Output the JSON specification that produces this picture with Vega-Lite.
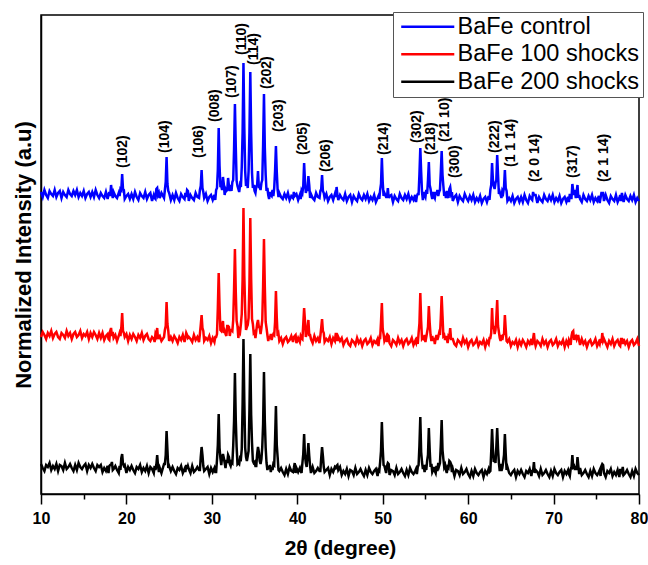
{
"$schema": "https://vega.github.io/schema/vega-lite/v6.json",
"width": 598, "height": 479,
"autosize": {"type": "none"},
"padding": {"left": 41, "top": 15, "right": 9, "bottom": 71},
"background": "white",
"config": {"view": {"stroke": "black", "strokeWidth": 1.5}, "font": "Liberation Sans"},
"datasets": {
"xrd": [
{"x":10.0,"b":302,"r":157,"k":30},{"x":10.2,"b":297,"r":162,"k":26},{"x":10.4,"b":304,"r":159,"k":23},{"x":10.6,"b":299,"r":155,"k":29},{"x":10.8,"b":296,"r":161,"k":27},
{"x":11.0,"b":303,"r":158,"k":31},{"x":11.2,"b":300,"r":163,"k":24},{"x":11.4,"b":298,"r":156,"k":28},{"x":11.6,"b":304,"r":160,"k":25},{"x":11.8,"b":297,"r":162,"k":30},
{"x":12.0,"b":301,"r":157,"k":23},{"x":12.2,"b":303,"r":155,"k":29},{"x":12.4,"b":296,"r":161,"k":28},{"x":12.6,"b":302,"r":159,"k":24},{"x":12.8,"b":299,"r":156,"k":31},
{"x":13.0,"b":297,"r":163,"k":25},{"x":13.2,"b":304,"r":158,"k":27},{"x":13.4,"b":300,"r":161,"k":30},{"x":13.6,"b":298,"r":155,"k":26},{"x":13.8,"b":303,"r":160,"k":23},
{"x":14.0,"b":299,"r":162,"k":29},{"x":14.2,"b":304,"r":157,"k":24},{"x":14.4,"b":297,"r":159,"k":31},{"x":14.6,"b":301,"r":163,"k":27},{"x":14.8,"b":298,"r":156,"k":25},
{"x":15.0,"b":303,"r":160,"k":28},{"x":15.2,"b":296,"r":158,"k":30},{"x":15.4,"b":300,"r":162,"k":23},{"x":15.6,"b":302,"r":155,"k":29},{"x":15.8,"b":297,"r":161,"k":26},
{"x":16.0,"b":302,"r":157,"k":30},{"x":16.2,"b":297,"r":162,"k":26},{"x":16.4,"b":304,"r":159,"k":23},{"x":16.6,"b":299,"r":155,"k":29},{"x":16.8,"b":296,"r":161,"k":27},
{"x":17.0,"b":301,"r":156,"k":29},{"x":17.2,"b":298,"r":161,"k":22},{"x":17.4,"b":296,"r":154,"k":26},{"x":17.6,"b":302,"r":158,"k":23},{"x":17.8,"b":295,"r":160,"k":28},
{"x":17.9,"b":299,"r":155,"k":21},{"x":18.0,"b":302,"r":154,"k":28},{"x":18.1,"b":298,"r":163,"k":29},{"x":18.2,"b":309,"r":166,"k":29},{"x":18.3,"b":301,"r":158,"k":32},
{"x":18.4,"b":296,"r":162,"k":24},{"x":18.5,"b":302,"r":156,"k":25},{"x":18.7,"b":298,"r":159,"k":28},{"x":18.9,"b":296,"r":153,"k":24},{"x":19.1,"b":301,"r":158,"k":21},
{"x":19.2,"b":298,"r":161,"k":28},{"x":19.3,"b":305,"r":158,"k":24},{"x":19.4,"b":304,"r":166,"k":36},{"x":19.5,"b":320,"r":181,"k":40},{"x":19.6,"b":305,"r":163,"k":30},
{"x":19.7,"b":304,"r":161,"k":28},{"x":19.8,"b":295,"r":157,"k":29},{"x":20.0,"b":298,"r":160,"k":21},{"x":20.2,"b":300,"r":153,"k":27},{"x":20.4,"b":295,"r":159,"k":24},
{"x":20.6,"b":300,"r":155,"k":28},{"x":20.8,"b":295,"r":160,"k":24},{"x":21.0,"b":302,"r":157,"k":21},{"x":21.2,"b":297,"r":153,"k":27},{"x":21.4,"b":294,"r":159,"k":25},
{"x":21.6,"b":301,"r":156,"k":29},{"x":21.8,"b":298,"r":161,"k":22},{"x":22.0,"b":296,"r":154,"k":26},{"x":22.2,"b":302,"r":158,"k":23},{"x":22.4,"b":295,"r":160,"k":28},
{"x":22.6,"b":299,"r":155,"k":21},{"x":22.8,"b":301,"r":153,"k":27},{"x":23.0,"b":293,"r":157,"k":25},{"x":23.2,"b":299,"r":155,"k":21},{"x":23.3,"b":296,"r":152,"k":28},
{"x":23.4,"b":295,"r":160,"k":24},{"x":23.5,"b":305,"r":158,"k":29},{"x":23.6,"b":306,"r":166,"k":39},{"x":23.7,"b":299,"r":155,"k":28},{"x":23.8,"b":301,"r":157,"k":22},
{"x":23.9,"b":296,"r":158,"k":26},{"x":24.1,"b":301,"r":153,"k":21},{"x":24.4,"b":296,"r":157,"k":30},{"x":24.5,"b":304,"r":164,"k":30},{"x":24.6,"b":312,"r":168,"k":39},
{"x":24.7,"b":337,"r":192,"k":63},{"x":24.8,"b":310,"r":170,"k":44},{"x":24.9,"b":303,"r":163,"k":26},{"x":25.0,"b":301,"r":153,"k":28},{"x":25.2,"b":294,"r":157,"k":23},
{"x":25.4,"b":299,"r":153,"k":27},{"x":25.6,"b":294,"r":158,"k":23},{"x":25.8,"b":301,"r":155,"k":20},{"x":26.0,"b":296,"r":151,"k":26},{"x":26.2,"b":293,"r":157,"k":24},
{"x":26.4,"b":300,"r":154,"k":28},{"x":26.6,"b":297,"r":159,"k":21},{"x":26.8,"b":295,"r":152,"k":25},{"x":26.9,"b":301,"r":156,"k":22},{"x":27.0,"b":297,"r":161,"k":29},
{"x":27.1,"b":304,"r":159,"k":25},{"x":27.2,"b":303,"r":156,"k":28},{"x":27.3,"b":293,"r":157,"k":25},{"x":27.5,"b":299,"r":155,"k":21},{"x":27.7,"b":296,"r":152,"k":28},
{"x":27.9,"b":294,"r":159,"k":22},{"x":28.1,"b":301,"r":154,"k":24},{"x":28.3,"b":297,"r":157,"k":27},{"x":28.5,"b":296,"r":152,"k":24},{"x":28.6,"b":304,"r":160,"k":24},
{"x":28.7,"b":308,"r":169,"k":37},{"x":28.8,"b":324,"r":179,"k":47},{"x":28.9,"b":306,"r":166,"k":39},{"x":29.0,"b":302,"r":163,"k":28},{"x":29.1,"b":296,"r":153,"k":23},
{"x":29.3,"b":300,"r":156,"k":25},{"x":29.5,"b":293,"r":154,"k":27},{"x":29.7,"b":297,"r":158,"k":20},{"x":29.9,"b":299,"r":151,"k":26},{"x":30.1,"b":294,"r":156,"k":22},
{"x":30.3,"b":299,"r":152,"k":26},{"x":30.4,"b":294,"r":157,"k":22},{"x":30.5,"b":304,"r":157,"k":22},{"x":30.6,"b":306,"r":160,"k":34},{"x":30.7,"b":324,"r":186,"k":49},
{"x":30.8,"b":366,"r":221,"k":80},{"x":30.9,"b":328,"r":188,"k":46},{"x":31.0,"b":308,"r":164,"k":36},{"x":31.1,"b":308,"r":163,"k":29},{"x":31.2,"b":304,"r":168,"k":37},
{"x":31.3,"b":317,"r":173,"k":40},{"x":31.4,"b":310,"r":161,"k":36},{"x":31.5,"b":299,"r":163,"k":31},{"x":31.6,"b":305,"r":160,"k":26},{"x":31.7,"b":303,"r":158,"k":34},
{"x":31.8,"b":304,"r":168,"k":31},{"x":31.9,"b":316,"r":168,"k":39},{"x":32.0,"b":308,"r":167,"k":37},{"x":32.1,"b":303,"r":158,"k":30},{"x":32.2,"b":309,"r":164,"k":28},
{"x":32.3,"b":303,"r":164,"k":32},{"x":32.4,"b":312,"r":163,"k":31},{"x":32.5,"b":314,"r":174,"k":48},{"x":32.6,"b":345,"r":205,"k":73},{"x":32.7,"b":390,"r":245,"k":121},
{"x":32.8,"b":347,"r":202,"k":74},{"x":32.9,"b":313,"r":173,"k":47},{"x":33.0,"b":308,"r":168,"k":30},{"x":33.1,"b":305,"r":156,"k":31},{"x":33.2,"b":302,"r":164,"k":30},
{"x":33.3,"b":309,"r":162,"k":36},{"x":33.4,"b":307,"r":170,"k":35},{"x":33.5,"b":327,"r":180,"k":45},{"x":33.6,"b":362,"r":215,"k":90},{"x":33.7,"b":431,"r":286,"k":155},
{"x":33.8,"b":366,"r":218,"k":92},{"x":33.9,"b":323,"r":184,"k":46},{"x":34.0,"b":308,"r":164,"k":37},{"x":34.1,"b":313,"r":167,"k":33},{"x":34.2,"b":306,"r":169,"k":38},
{"x":34.3,"b":323,"r":176,"k":43},{"x":34.4,"b":362,"r":211,"k":84},{"x":34.5,"b":422,"r":276,"k":140},{"x":34.6,"b":361,"r":215,"k":79},{"x":34.7,"b":321,"r":175,"k":51},
{"x":34.8,"b":306,"r":170,"k":33},{"x":34.9,"b":309,"r":161,"k":31},{"x":35.0,"b":303,"r":162,"k":32},{"x":35.1,"b":301,"r":156,"k":28},{"x":35.2,"b":308,"r":163,"k":28},
{"x":35.3,"b":309,"r":170,"k":40},{"x":35.4,"b":323,"r":174,"k":47},{"x":35.5,"b":307,"r":167,"k":42},{"x":35.6,"b":307,"r":167,"k":33},{"x":35.7,"b":304,"r":160,"k":30},
{"x":35.8,"b":311,"r":166,"k":35},{"x":35.9,"b":314,"r":174,"k":47},{"x":36.0,"b":349,"r":208,"k":70},{"x":36.1,"b":400,"r":255,"k":122},{"x":36.2,"b":346,"r":207,"k":73},
{"x":36.3,"b":319,"r":172,"k":46},{"x":36.4,"b":303,"r":166,"k":31},{"x":36.5,"b":306,"r":159,"k":24},{"x":36.6,"b":299,"r":153,"k":28},{"x":36.7,"b":295,"r":158,"k":25},
{"x":36.8,"b":302,"r":155,"k":29},{"x":36.9,"b":299,"r":160,"k":22},{"x":37.0,"b":298,"r":154,"k":27},{"x":37.1,"b":304,"r":158,"k":24},{"x":37.2,"b":298,"r":160,"k":30},
{"x":37.3,"b":306,"r":159,"k":29},{"x":37.4,"b":323,"r":172,"k":54},{"x":37.5,"b":348,"r":203,"k":88},{"x":37.6,"b":322,"r":176,"k":49},{"x":37.7,"b":304,"r":158,"k":37},
{"x":37.8,"b":297,"r":160,"k":24},{"x":37.9,"b":301,"r":153,"k":23},{"x":38.1,"b":297,"r":156,"k":26},{"x":38.3,"b":295,"r":150,"k":22},{"x":38.5,"b":300,"r":155,"k":19},
{"x":38.7,"b":296,"r":157,"k":25},{"x":38.9,"b":301,"r":152,"k":20},{"x":39.1,"b":294,"r":154,"k":27},{"x":39.3,"b":298,"r":158,"k":23},{"x":39.5,"b":296,"r":152,"k":22},
{"x":39.6,"b":302,"r":157,"k":26},{"x":39.7,"b":298,"r":158,"k":31},{"x":39.8,"b":299,"r":159,"k":21},{"x":39.9,"b":300,"r":151,"k":26},{"x":40.1,"b":294,"r":156,"k":22},
{"x":40.3,"b":299,"r":152,"k":26},{"x":40.4,"b":295,"r":158,"k":23},{"x":40.5,"b":303,"r":156,"k":21},{"x":40.6,"b":301,"r":155,"k":31},{"x":40.7,"b":308,"r":170,"k":40},
{"x":40.8,"b":331,"r":186,"k":60},{"x":40.9,"b":313,"r":173,"k":38},{"x":41.0,"b":301,"r":157,"k":31},{"x":41.1,"b":306,"r":160,"k":27},{"x":41.2,"b":303,"r":166,"k":39},
{"x":41.3,"b":318,"r":174,"k":51},{"x":41.4,"b":309,"r":159,"k":38},{"x":41.5,"b":296,"r":159,"k":28},{"x":41.6,"b":300,"r":155,"k":21},{"x":41.8,"b":296,"r":151,"k":27},
{"x":42.0,"b":294,"r":158,"k":21},{"x":42.2,"b":301,"r":153,"k":23},{"x":42.4,"b":297,"r":156,"k":26},{"x":42.6,"b":296,"r":151,"k":23},{"x":42.7,"b":303,"r":158,"k":23},
{"x":42.8,"b":305,"r":166,"k":36},{"x":42.9,"b":319,"r":175,"k":47},{"x":43.0,"b":303,"r":163,"k":38},{"x":43.1,"b":301,"r":161,"k":27},{"x":43.2,"b":296,"r":152,"k":22},
{"x":43.4,"b":300,"r":155,"k":24},{"x":43.6,"b":293,"r":153,"k":26},{"x":43.8,"b":297,"r":157,"k":19},{"x":44.0,"b":299,"r":150,"k":25},{"x":44.2,"b":294,"r":156,"k":22},
{"x":44.4,"b":300,"r":153,"k":27},{"x":44.5,"b":297,"r":160,"k":26},{"x":44.6,"b":307,"r":160,"k":28},{"x":44.7,"b":299,"r":153,"k":29},{"x":44.8,"b":294,"r":157,"k":24},
{"x":45.0,"b":299,"r":153,"k":27},{"x":45.2,"b":296,"r":156,"k":19},{"x":45.4,"b":294,"r":149,"k":23},{"x":45.6,"b":300,"r":153,"k":20},{"x":45.8,"b":293,"r":155,"k":25},
{"x":46.0,"b":297,"r":150,"k":18},{"x":46.2,"b":299,"r":148,"k":24},{"x":46.4,"b":292,"r":154,"k":23},{"x":46.6,"b":298,"r":152,"k":19},{"x":46.8,"b":295,"r":149,"k":26},
{"x":47.0,"b":293,"r":156,"k":20},{"x":47.2,"b":300,"r":151,"k":22},{"x":47.4,"b":296,"r":154,"k":25},{"x":47.6,"b":294,"r":148,"k":21},{"x":47.8,"b":299,"r":153,"k":18},
{"x":48.0,"b":295,"r":155,"k":24},{"x":48.2,"b":300,"r":150,"k":19},{"x":48.4,"b":293,"r":152,"k":26},{"x":48.6,"b":297,"r":156,"k":22},{"x":48.8,"b":294,"r":149,"k":20},
{"x":49.0,"b":299,"r":153,"k":23},{"x":49.2,"b":292,"r":151,"k":25},{"x":49.4,"b":296,"r":155,"k":18},{"x":49.5,"b":298,"r":148,"k":24},{"x":49.6,"b":295,"r":156,"k":23},
{"x":49.7,"b":304,"r":156,"k":32},{"x":49.8,"b":310,"r":172,"k":43},{"x":49.9,"b":336,"r":191,"k":72},{"x":50.0,"b":312,"r":165,"k":46},{"x":50.1,"b":298,"r":160,"k":29},
{"x":50.2,"b":301,"r":153,"k":28},{"x":50.4,"b":297,"r":157,"k":21},{"x":50.5,"b":297,"r":152,"k":28},{"x":50.6,"b":306,"r":159,"k":31},{"x":50.7,"b":296,"r":158,"k":30},
{"x":50.8,"b":298,"r":151,"k":19},{"x":51.0,"b":299,"r":148,"k":24},{"x":51.2,"b":292,"r":154,"k":23},{"x":51.4,"b":298,"r":152,"k":19},{"x":51.6,"b":295,"r":149,"k":26},
{"x":51.8,"b":293,"r":156,"k":20},{"x":52.0,"b":300,"r":151,"k":22},{"x":52.2,"b":296,"r":154,"k":25},{"x":52.4,"b":294,"r":148,"k":21},{"x":52.6,"b":299,"r":153,"k":18},
{"x":52.8,"b":295,"r":155,"k":24},{"x":53.0,"b":300,"r":150,"k":19},{"x":53.2,"b":293,"r":152,"k":26},{"x":53.4,"b":297,"r":156,"k":22},{"x":53.6,"b":294,"r":149,"k":20},
{"x":53.8,"b":299,"r":153,"k":23},{"x":53.9,"b":292,"r":151,"k":25},{"x":54.0,"b":298,"r":157,"k":20},{"x":54.1,"b":300,"r":150,"k":27},{"x":54.2,"b":300,"r":161,"k":29},
{"x":54.3,"b":320,"r":171,"k":49},{"x":54.4,"b":346,"r":201,"k":77},{"x":54.5,"b":322,"r":173,"k":42},{"x":54.6,"b":302,"r":155,"k":32},{"x":54.7,"b":294,"r":156,"k":25},
{"x":54.8,"b":302,"r":155,"k":29},{"x":54.9,"b":299,"r":159,"k":22},{"x":55.0,"b":297,"r":152,"k":26},{"x":55.1,"b":304,"r":157,"k":24},{"x":55.2,"b":300,"r":162,"k":33},
{"x":55.3,"b":314,"r":167,"k":39},{"x":55.4,"b":332,"r":188,"k":66},{"x":55.5,"b":309,"r":171,"k":44},{"x":55.6,"b":305,"r":159,"k":27},{"x":55.7,"b":299,"r":153,"k":30},
{"x":55.8,"b":295,"r":158,"k":22},{"x":55.9,"b":302,"r":153,"k":24},{"x":56.0,"b":298,"r":156,"k":27},{"x":56.1,"b":296,"r":150,"k":23},{"x":56.2,"b":302,"r":156,"k":21},
{"x":56.3,"b":299,"r":159,"k":28},{"x":56.4,"b":304,"r":154,"k":23},{"x":56.5,"b":298,"r":157,"k":31},{"x":56.6,"b":302,"r":161,"k":28},{"x":56.7,"b":304,"r":159,"k":31},
{"x":56.8,"b":322,"r":176,"k":49},{"x":56.9,"b":343,"r":198,"k":74},{"x":57.0,"b":319,"r":178,"k":44},{"x":57.1,"b":308,"r":158,"k":35},{"x":57.2,"b":298,"r":159,"k":27},
{"x":57.3,"b":302,"r":154,"k":29},{"x":57.4,"b":296,"r":158,"k":24},{"x":57.5,"b":303,"r":155,"k":21},{"x":57.6,"b":298,"r":151,"k":27},{"x":57.7,"b":296,"r":158,"k":26},
{"x":57.8,"b":305,"r":157,"k":33},{"x":57.9,"b":307,"r":166,"k":32},{"x":58.0,"b":300,"r":155,"k":30},{"x":58.1,"b":302,"r":155,"k":22},{"x":58.2,"b":293,"r":155,"k":25},
{"x":58.4,"b":297,"r":150,"k":18},{"x":58.6,"b":299,"r":148,"k":24},{"x":58.8,"b":292,"r":154,"k":23},{"x":59.0,"b":298,"r":152,"k":19},{"x":59.2,"b":295,"r":149,"k":26},
{"x":59.4,"b":293,"r":156,"k":20},{"x":59.6,"b":300,"r":151,"k":22},{"x":59.8,"b":296,"r":154,"k":25},{"x":60.0,"b":293,"r":147,"k":20},{"x":60.2,"b":298,"r":152,"k":17},
{"x":60.4,"b":294,"r":154,"k":23},{"x":60.6,"b":299,"r":149,"k":18},{"x":60.8,"b":292,"r":151,"k":25},{"x":61.0,"b":296,"r":155,"k":21},{"x":61.2,"b":293,"r":148,"k":19},
{"x":61.4,"b":298,"r":152,"k":22},{"x":61.6,"b":291,"r":150,"k":24},{"x":61.8,"b":295,"r":154,"k":17},{"x":62.0,"b":297,"r":147,"k":23},{"x":62.2,"b":292,"r":153,"k":20},
{"x":62.4,"b":298,"r":150,"k":25},{"x":62.5,"b":294,"r":156,"k":22},{"x":62.6,"b":304,"r":156,"k":23},{"x":62.7,"b":309,"r":161,"k":42},{"x":62.8,"b":331,"r":186,"k":65},
{"x":62.9,"b":314,"r":165,"k":45},{"x":63.0,"b":308,"r":168,"k":32},{"x":63.1,"b":305,"r":160,"k":34},{"x":63.2,"b":311,"r":164,"k":31},{"x":63.3,"b":314,"r":176,"k":47},
{"x":63.4,"b":339,"r":194,"k":66},{"x":63.5,"b":319,"r":168,"k":45},{"x":63.6,"b":300,"r":162,"k":31},{"x":63.7,"b":302,"r":156,"k":23},{"x":63.8,"b":299,"r":153,"k":30},
{"x":63.9,"b":296,"r":159,"k":23},{"x":64.0,"b":303,"r":154,"k":26},{"x":64.1,"b":301,"r":159,"k":32},{"x":64.2,"b":307,"r":160,"k":39},{"x":64.3,"b":324,"r":179,"k":60},
{"x":64.4,"b":306,"r":165,"k":40},{"x":64.5,"b":303,"r":153,"k":24},{"x":64.6,"b":293,"r":152,"k":27},{"x":64.8,"b":296,"r":155,"k":21},{"x":65.0,"b":293,"r":148,"k":19},
{"x":65.2,"b":298,"r":152,"k":22},{"x":65.4,"b":291,"r":150,"k":24},{"x":65.6,"b":295,"r":154,"k":17},{"x":65.8,"b":297,"r":147,"k":23},{"x":66.0,"b":292,"r":153,"k":20},
{"x":66.2,"b":297,"r":149,"k":24},{"x":66.4,"b":292,"r":154,"k":20},{"x":66.6,"b":299,"r":151,"k":17},{"x":66.8,"b":294,"r":147,"k":23},{"x":67.0,"b":291,"r":153,"k":21},
{"x":67.2,"b":298,"r":150,"k":25},{"x":67.4,"b":295,"r":155,"k":18},{"x":67.5,"b":294,"r":149,"k":23},{"x":67.6,"b":302,"r":155,"k":23},{"x":67.7,"b":299,"r":161,"k":32},
{"x":67.8,"b":299,"r":152,"k":21},{"x":67.9,"b":299,"r":148,"k":24},{"x":68.1,"b":291,"r":153,"k":22},{"x":68.3,"b":297,"r":151,"k":18},{"x":68.5,"b":294,"r":148,"k":25},
{"x":68.7,"b":292,"r":155,"k":19},{"x":68.9,"b":299,"r":150,"k":21},{"x":69.1,"b":295,"r":153,"k":24},{"x":69.3,"b":293,"r":147,"k":20},{"x":69.5,"b":298,"r":152,"k":17},
{"x":69.7,"b":294,"r":154,"k":23},{"x":69.9,"b":299,"r":149,"k":18},{"x":70.1,"b":292,"r":151,"k":25},{"x":70.3,"b":296,"r":155,"k":21},{"x":70.5,"b":293,"r":148,"k":19},
{"x":70.7,"b":298,"r":152,"k":22},{"x":70.9,"b":291,"r":150,"k":24},{"x":71.1,"b":295,"r":154,"k":17},{"x":71.3,"b":297,"r":147,"k":23},{"x":71.5,"b":292,"r":153,"k":20},
{"x":71.7,"b":297,"r":149,"k":24},{"x":71.8,"b":292,"r":154,"k":20},{"x":71.9,"b":300,"r":152,"k":18},{"x":72.0,"b":296,"r":149,"k":25},{"x":72.1,"b":296,"r":158,"k":27},
{"x":72.2,"b":310,"r":162,"k":39},{"x":72.3,"b":303,"r":163,"k":27},{"x":72.4,"b":299,"r":154,"k":28},{"x":72.5,"b":304,"r":157,"k":24},{"x":72.6,"b":296,"r":158,"k":28},
{"x":72.7,"b":302,"r":155,"k":24},{"x":72.8,"b":309,"r":158,"k":37},{"x":72.9,"b":296,"r":158,"k":28},{"x":73.0,"b":299,"r":153,"k":20},{"x":73.1,"b":295,"r":149,"k":26},
{"x":73.3,"b":292,"r":155,"k":19},{"x":73.5,"b":299,"r":150,"k":21},{"x":73.7,"b":295,"r":153,"k":24},{"x":73.9,"b":293,"r":147,"k":20},{"x":74.1,"b":298,"r":152,"k":17},
{"x":74.3,"b":294,"r":154,"k":23},{"x":74.5,"b":299,"r":149,"k":18},{"x":74.7,"b":292,"r":151,"k":25},{"x":74.9,"b":296,"r":155,"k":21},{"x":75.1,"b":293,"r":148,"k":19},
{"x":75.3,"b":298,"r":152,"k":22},{"x":75.4,"b":291,"r":150,"k":24},{"x":75.5,"b":296,"r":155,"k":18},{"x":75.6,"b":301,"r":151,"k":28},{"x":75.7,"b":301,"r":161,"k":30},
{"x":75.8,"b":301,"r":153,"k":29},{"x":75.9,"b":293,"r":155,"k":21},{"x":76.1,"b":299,"r":151,"k":17},{"x":76.3,"b":294,"r":147,"k":23},{"x":76.5,"b":291,"r":153,"k":21},
{"x":76.7,"b":298,"r":150,"k":25},{"x":76.9,"b":295,"r":155,"k":18},{"x":77.1,"b":293,"r":148,"k":22},{"x":77.3,"b":299,"r":152,"k":19},{"x":77.5,"b":292,"r":154,"k":24},
{"x":77.7,"b":296,"r":149,"k":17},{"x":77.8,"b":299,"r":148,"k":24},{"x":77.9,"b":293,"r":155,"k":24},{"x":78.0,"b":301,"r":155,"k":22},{"x":78.1,"b":296,"r":150,"k":27},
{"x":78.2,"b":292,"r":155,"k":19},{"x":78.4,"b":299,"r":150,"k":21},{"x":78.6,"b":295,"r":153,"k":24},{"x":78.8,"b":293,"r":147,"k":20},{"x":79.0,"b":298,"r":152,"k":17},
{"x":79.2,"b":294,"r":154,"k":23},{"x":79.4,"b":299,"r":149,"k":18},{"x":79.6,"b":292,"r":151,"k":25},{"x":79.8,"b":296,"r":155,"k":21},{"x":80.0,"b":293,"r":148,"k":19}
],
"labels": [
{"x":19.6,"y":326,"t":"(102)"},{"x":24.5,"y":341,"t":"(104)"},{"x":28.5,"y":336,"t":"(106)"},{"x":30.4,"y":372,"t":"(008)"},
{"x":32.3,"y":396,"t":"(107)"},{"x":33.5,"y":439,"t":"(110)"},{"x":34.9,"y":429,"t":"(114)"},{"x":36.4,"y":405,"t":"(202)"},
{"x":37.9,"y":362,"t":"(203)"},{"x":40.7,"y":339,"t":"(205)"},{"x":43.4,"y":322,"t":"(206)"},{"x":50.1,"y":339,"t":"(214)"},
{"x":54.0,"y":351,"t":"(302)"},{"x":55.7,"y":339,"t":"(218)"},{"x":57.3,"y":352,"t":"(21 10)"},{"x":58.5,"y":316,"t":"(300)"},
{"x":63.1,"y":341,"t":"(222)"},{"x":65.0,"y":327,"t":"(1 1 14)"},{"x":67.8,"y":312,"t":"(2 0 14)"},{"x":72.3,"y":316,"t":"(317)"},
{"x":75.9,"y":312,"t":"(2 1 14)"}
]
},
"layer": [
{
"data": {"name": "xrd"},
"transform": [{"fold": ["b", "r", "k"], "as": ["s", "v"]}],
"mark": {"type": "line", "strokeWidth": 2.5},
"encoding": {
"x": {"field": "x", "type": "quantitative", "scale": {"domain": [10, 80], "nice": false, "zero": false},
"axis": {"values": [10,15,20,25,30,35,40,45,50,55,60,65,70,75,80],
"labelExpr": "datum.value % 10 === 0 ? datum.label : ''",
"tickSize": {"condition": {"test": "datum.value % 10 === 0", "value": 10}, "value": 5},
"tickColor": "black", "tickWidth": 1.5, "domainColor": "black", "domainWidth": 1.5, "grid": false,
"labelFont": "Liberation Sans", "labelFontSize": 16, "labelFontWeight": "bold", "labelColor": "black", "labelPadding": 6, "labelFlush": false,
"title": "2θ (degree)", "titleFont": "Liberation Sans", "titleFontSize": 21, "titleFontWeight": "bold", "titleColor": "black", "titlePadding": 11}},
"y": {"field": "v", "type": "quantitative", "scale": {"domain": [0, 479], "nice": false, "zero": false},
"axis": {"title": "Normalized Intensity (a.u)", "ticks": false, "labels": false, "grid": false, "domainColor": "black", "domainWidth": 1.5,
"titleFont": "Liberation Sans", "titleFontSize": 22, "titleFontWeight": "bold", "titleColor": "black", "titlePadding": 6}},
"color": {"field": "s", "type": "nominal",
"scale": {"domain": ["b", "r", "k"], "range": ["#0000ff", "#ff0000", "#000000"]},
"legend": {"title": null, "orient": "none", "legendX": 352, "legendY": -3,
"labelExpr": "datum.value == 'b' ? 'BaFe control' : datum.value == 'r' ? 'BaFe 100 shocks' : 'BaFe 200 shocks'",
"symbolType": "M-4,0H4", "symbolSize": 176, "symbolStrokeWidth": 2.5, "symbolOffset": 20,
"labelFont": "Liberation Sans", "labelFontSize": 23.5, "labelColor": "black", "labelOffset": 18, "labelLimit": 400,
"padding": 3, "rowPadding": 2.5, "strokeColor": "#555555", "fillColor": "white"}}
}
},
{
"data": {"name": "labels"},
"mark": {"type": "text", "angle": 270, "align": "left", "baseline": "middle", "font": "Liberation Sans", "fontWeight": "bold", "fontSize": 14, "color": "black"},
"encoding": {
"x": {"field": "x", "type": "quantitative"},
"y": {"field": "y", "type": "quantitative"},
"text": {"field": "t"}
}
}
]
}
